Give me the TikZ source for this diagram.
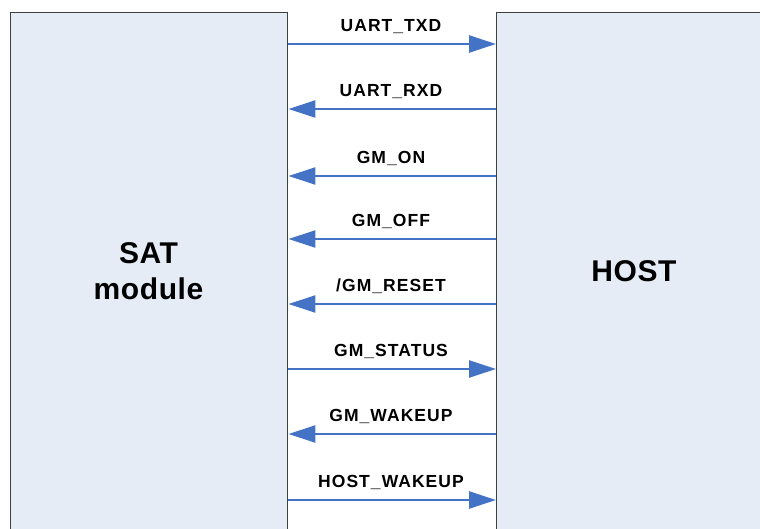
\documentclass[tikz,border=0pt]{standalone}
\usepackage{fontspec}
\setmainfont{Liberation Sans}
\newfontfamily\lblfont[LetterSpace=6]{Liberation Sans}
\newfontfamily\bigfont[LetterSpace=2]{Liberation Sans}
\usetikzlibrary{arrows.meta}
\definecolor{boxfill}{HTML}{E6ECF6}
\definecolor{boxline}{HTML}{404040}
\definecolor{sig}{HTML}{4472C4}
\begin{document}
\begin{tikzpicture}[x=1pt,y=-1pt,
  block/.style={draw=boxline,fill=boxfill,line width=1.45pt,inner sep=0pt,anchor=north west},
  bigtext/.style={font=\bigfont\bfseries\fontsize{30}{36}\selectfont,align=center},
  sigline/.style={draw=sig,line width=2.4pt,-{Triangle[length=27pt,width=17pt]}},
  siglabel/.style={font=\lblfont\bfseries\fontsize{17.5}{20}\selectfont,anchor=base,inner sep=0pt}]
\clip (0,0) rectangle (760,529);
\node[block,minimum width=277pt,minimum height=530pt] (sat) at (10,12) {};
\node[block,minimum width=278pt,minimum height=530pt] (host) at (496,12) {};
\node[bigtext] (satlbl) at (148.5,271) {SAT\\module};
\node[bigtext] (hostlbl) at (634,271) {HOST};
\foreach \y/\t/\d [count=\i] in {44/{UART\_TXD}/r,109/{UART\_RXD}/l,176/{GM\_ON}/l,239/{GM\_OFF}/l,304/{/GM\_RESET}/l,369/{GM\_STATUS}/r,434/{GM\_WAKEUP}/l,500/{HOST\_WAKEUP}/r}{
  \node[siglabel] (lab\i) at (391,\y-12.5) {\t};
  \if r\d
    \draw[sigline] (sat.east |- 0,\y) -- (host.west |- 0,\y);
  \else
    \draw[sigline] (host.west |- 0,\y) -- (sat.east |- 0,\y);
  \fi
}
\end{tikzpicture}
\end{document}
